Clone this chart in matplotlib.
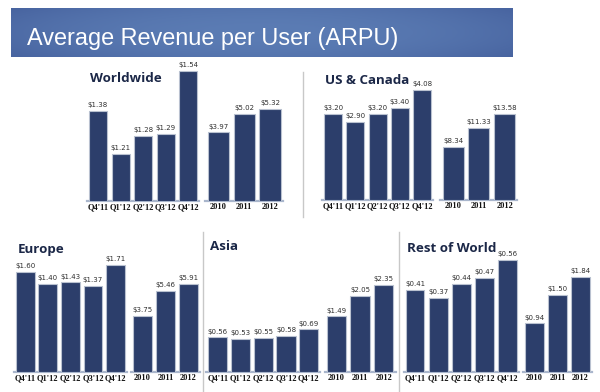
"""ARPU by region: quarterly and annual bars, recreated with matplotlib."""
import matplotlib
matplotlib.use("Agg")
import matplotlib.pyplot as plt
import numpy as np
from matplotlib import font_manager
from matplotlib.lines import Line2D

W, H = 600, 392

TITLE = "Average Revenue per User (ARPU)"
QUARTERS = ["Q4'11", "Q1'12", "Q2'12", "Q3'12", "Q4'12"]
YEARS = ["2010", "2011", "2012"]

ww_quarterly = [1.38, 1.21, 1.28, 1.29, 1.54]
ww_annual = [3.97, 5.02, 5.32]
usc_quarterly = [3.20, 2.90, 3.20, 3.40, 4.08]
usc_annual = [8.34, 11.33, 13.58]
eu_quarterly = [1.60, 1.40, 1.43, 1.37, 1.71]
eu_annual = [3.75, 5.46, 5.91]
asia_quarterly = [0.56, 0.53, 0.55, 0.58, 0.69]
asia_annual = [1.49, 2.05, 2.35]
row_quarterly = [0.41, 0.37, 0.44, 0.47, 0.56]
row_annual = [0.94, 1.50, 1.84]

BAR = "#2c3e6b"
EDGE = "#b9c1d0"
BASE = "#a9b6cc"
NAVY = "#1b2747"


def has_font(name):
    try:
        font_manager.findfont(name, fallback_to_default=False)
        return True
    except Exception:
        return False


TITLE_FONT = "Liberation Sans Narrow" if has_font("Liberation Sans Narrow") else "Liberation Sans"
HEAD_FONT = "Open Sans" if has_font("Open Sans") else "DejaVu Sans"

fig = plt.figure(figsize=(W / 100, H / 100), dpi=100)


def fx(x):
    return x / W


def fy(y):
    return 1 - y / H


# banner with a soft gradient
bax = fig.add_axes([fx(11), fy(57), fx(502), 49 / H])
gx = np.linspace(-1, 1, 200)
gy = np.linspace(-1, 1, 40)
grad = 1 - 0.55 * (gx[None, :] ** 2) - 0.25 * (gy[:, None] ** 2)
cmap = matplotlib.colors.LinearSegmentedColormap.from_list("banner", ["#4864a0", "#5b7cb4"])
bax.imshow(grad, cmap=cmap, aspect="auto", extent=[0, 1, 0, 1])
bax.axis("off")
t = fig.text(fx(27), fy(45.5), TITLE, color="white", fontsize=20, family=TITLE_FONT,
             va="baseline", ha="left")
fig.canvas.draw()
w = t.get_window_extent().width
t.set_fontsize(20 * 371 / w)


def draw_group(left, width, base, labels, values, frac, y0, ppu, height=140):
    ax = fig.add_axes([fx(left), fy(base), fx(width), height / H])
    x = np.arange(len(values))
    ax.bar(x, values, width=frac, color=BAR, edgecolor=EDGE, linewidth=0.8, zorder=2)
    ax.set_xlim(-0.5, len(values) - 0.5)
    ax.set_ylim(y0, y0 + height / ppu)
    for xi, v in zip(x, values):
        ax.annotate(f"${v:.2f}", (xi, v), xytext=(0, 2.0), textcoords="offset points",
                    ha="center", va="bottom", fontsize=5.0, color="#2f2f2f",
                    annotation_clip=False)
    ax.set_xticks(x, labels)
    for lab in ax.get_xticklabels():
        lab.set_family("Liberation Serif")
        lab.set_fontweight("bold")
        lab.set_fontsize(6.0)
        lab.set_color("#111111")
    ax.tick_params(length=0, pad=1.6, left=False, labelleft=False)
    for s in ("top", "left", "right"):
        ax.spines[s].set_visible(False)
    ax.spines["bottom"].set_color(BASE)
    ax.spines["bottom"].set_linewidth(1.6)
    ax.spines["bottom"].set_zorder(1)
    ax.patch.set_alpha(0)
    return ax


def panel(title, tx, ty, base, q, a):
    fig.text(fx(tx), fy(ty), title, family=HEAD_FONT, fontweight="bold", fontsize=9.6,
             color=NAVY, va="center", ha="left")
    draw_group(q[0], q[1], base, QUARTERS, q[2], q[3], q[4], q[5])
    draw_group(a[0], a[1], base, YEARS, a[2], a[3], a[4], a[5])


panel("Worldwide", 90, 79, 201,
      (86.75, 112.5, ww_quarterly, 0.80, 1.02, 250),
      (205.4, 77.5, ww_annual, 0.82, 0, 17.3))
panel("US & Canada", 325, 80, 200,
      (321.9, 111.3, usc_quarterly, 0.81, 0, 27),
      (440.4, 77, usc_annual, 0.82, 0, 6.35))
panel("Europe", 18, 249, 371.7,
      (13.9, 113, eu_quarterly, 0.84, 0, 62.5),
      (130.8, 69.2, eu_annual, 0.83, 0, 14.85))
panel("Asia", 210, 247, 371.7,
      (206.4, 113.75, asia_quarterly, 0.84, 0, 61.3),
      (324.5, 71, asia_annual, 0.82, 0, 37.1))
panel("Rest of World", 407, 248, 371.7,
      (403.5, 115.5, row_quarterly, 0.81, 0, 200),
      (523, 69, row_annual, 0.83, 0, 51.4))

# thin grey separators between panels
for x, y1, y2 in [(303, 72, 217), (203, 232, 392), (399, 232, 392)]:
    fig.add_artist(Line2D([fx(x), fx(x)], [fy(y1), fy(y2)], color="#c8c8c8", lw=1.0))

fig.savefig("out.png", dpi=100)
